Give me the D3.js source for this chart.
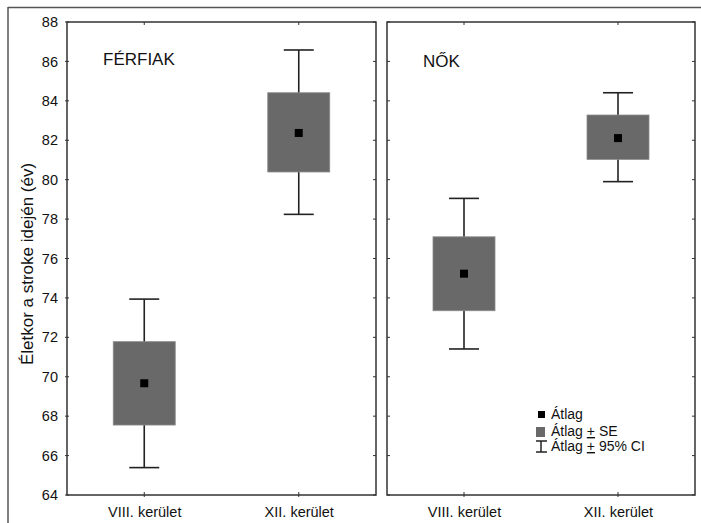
<!DOCTYPE html>
<html><head><meta charset="utf-8">
<script src="https://cdn.jsdelivr.net/npm/d3@7"></script>
<style>body{margin:0;background:#fff}svg{display:block}text{font-family:"Liberation Sans",Arial,sans-serif;fill:#111}</style>
</head><body><svg id="c" width="701" height="523"></svg>
<script>
const categories = ["VIII. kerület", "XII. kerület"];
const panelTitles = ["FÉRFIAK", "NŐK"];
const yTicks = [64, 66, 68, 70, 72, 74, 76, 78, 80, 82, 84, 86, 88];
// men
const menMean = [69.67, 82.37];
const menSeLow = [67.55, 80.39];
const menSeHigh = [71.78, 84.41];
const menCiLow = [65.39, 78.24];
const menCiHigh = [73.94, 86.58];
// women
const womenMean = [75.23, 82.11];
const womenSeLow = [73.35, 81.03];
const womenSeHigh = [77.10, 83.28];
const womenCiLow = [71.41, 79.90];
const womenCiHigh = [79.05, 84.41];
const legendLabels = ["Átlag", "Átlag ", "Átlag "];
const yLabel = "Életkor a stroke idején (év)";

const svg = d3.select("#c");
const yTop = 22, yBottom = 495;
const y = d3.scaleLinear().domain([64, 88]).range([yBottom, yTop]);
const panels = [
  {x0: 67, x1: 376, title: panelTitles[0], titleY: 65, mean: menMean, seL: menSeLow, seH: menSeHigh, ciL: menCiLow, ciH: menCiHigh},
  {x0: 387, x1: 695, title: panelTitles[1], titleY: 67, mean: womenMean, seL: womenSeLow, seH: womenSeHigh, ciL: womenCiLow, ciH: womenCiHigh}
];

// outer frame
svg.append("line").attr("x1", 8).attr("x2", 701).attr("y1", 7.5).attr("y2", 7.5).attr("stroke", "#555").attr("stroke-width", 1.5);
svg.append("line").attr("x1", 8).attr("x2", 8).attr("y1", 7).attr("y2", 523).attr("stroke", "#555").attr("stroke-width", 1.5);

const boxW = 62, capW = 30, mk = 8;
panels.forEach((p, pi) => {
  const x = d3.scalePoint().domain(categories).range([p.x0, p.x1]).padding(0.5);
  const g = svg.append("g");
  // frame
  g.append("rect").attr("x", p.x0).attr("y", yTop).attr("width", p.x1 - p.x0).attr("height", yBottom - yTop)
    .attr("fill", "none").attr("stroke", "#333").attr("stroke-width", 1.5);
  // y ticks inside
  yTicks.forEach(t => {
    if (pi === 1) g.append("line").attr("x1", p.x0).attr("x2", p.x0 + 3).attr("y1", y(t)).attr("y2", y(t)).attr("stroke", "#333");
    else g.append("line").attr("x1", p.x0 - 2).attr("x2", p.x0 + 2).attr("y1", y(t)).attr("y2", y(t)).attr("stroke", "#333");
    g.append("line").attr("x1", p.x1 - 3).attr("x2", p.x1).attr("y1", y(t)).attr("y2", y(t)).attr("stroke", "#333");
  });
  categories.forEach(c => {
    g.append("line").attr("x1", x(c)).attr("x2", x(c)).attr("y1", yTop).attr("y2", yTop + 3).attr("stroke", "#333");
    g.append("line").attr("x1", x(c)).attr("x2", x(c)).attr("y1", yBottom - 3).attr("y2", yBottom + 2).attr("stroke", "#333");
  });
  // x axis labels
  const xa = d3.axisBottom(x).tickSize(0).tickPadding(12);
  const ax = g.append("g").attr("transform", `translate(0,${yBottom})`).call(xa);
  ax.select(".domain").remove();
  ax.selectAll("text").attr("font-size", 14.5).attr("fill", "#111").attr("font-family", "Liberation Sans, Arial, sans-serif");
  // title
  g.append("text").attr("x", p.x0 + 36).attr("y", p.titleY).attr("font-size", 17).text(p.title);
  // whiskers
  categories.forEach((c, i) => {
    const cx = x(c);
    g.append("line").attr("x1", cx).attr("x2", cx).attr("y1", y(p.ciL[i])).attr("y2", y(p.ciH[i])).attr("stroke", "#222").attr("stroke-width", 1.6);
    [p.ciL[i], p.ciH[i]].forEach(v => g.append("line").attr("x1", cx - capW / 2).attr("x2", cx + capW / 2).attr("y1", y(v)).attr("y2", y(v)).attr("stroke", "#222").attr("stroke-width", 1.6));
    g.append("rect").attr("x", cx - boxW / 2).attr("y", y(p.seH[i])).attr("width", boxW).attr("height", y(p.seL[i]) - y(p.seH[i]))
      .attr("fill", "#696969").attr("stroke", "#8a8a8a").attr("stroke-width", 0.8);
    g.append("rect").attr("x", cx - mk / 2).attr("y", y(p.mean[i]) - mk / 2).attr("width", mk).attr("height", mk).attr("fill", "#000");
  });
  if (pi === 0) {
    const ya = d3.axisLeft(y).tickValues(yTicks).tickSize(0).tickPadding(9);
    const ay = g.append("g").attr("transform", `translate(${p.x0},0)`).call(ya);
    ay.select(".domain").remove();
    ay.selectAll("text").attr("font-size", 14.5).attr("fill", "#111").attr("font-family", "Liberation Sans, Arial, sans-serif");
  }
});

// y label
svg.append("text").attr("transform", "translate(33,264) rotate(-90)").attr("text-anchor", "middle").attr("font-size", 17).text(yLabel);

// legend
const lg = svg.append("g");
lg.append("rect").attr("x", 538).attr("y", 411).attr("width", 7).attr("height", 7).attr("fill", "#000");
lg.append("rect").attr("x", 536).attr("y", 427).attr("width", 9).attr("height", 10).attr("fill", "#696969");
lg.append("line").attr("x1", 541).attr("x2", 541).attr("y1", 441).attr("y2", 452).attr("stroke", "#222").attr("stroke-width", 1.5);
lg.append("line").attr("x1", 536).attr("x2", 547).attr("y1", 441).attr("y2", 441).attr("stroke", "#222").attr("stroke-width", 1.5);
lg.append("line").attr("x1", 536).attr("x2", 547).attr("y1", 452).attr("y2", 452).attr("stroke", "#222").attr("stroke-width", 1.5);
const lt = [[419, legendLabels[0], null, null], [436, legendLabels[1], "+", " SE"], [451, legendLabels[2], "+", " 95% CI"]];
lt.forEach(r => {
  const t = lg.append("text").attr("x", 551).attr("y", r[0]).attr("font-size", 14);
  t.append("tspan").text(r[1]);
  if (r[2]) {
    t.append("tspan").attr("text-decoration", "underline").text(r[2]);
    t.append("tspan").text(r[3]);
  }
});
</script></body></html>
